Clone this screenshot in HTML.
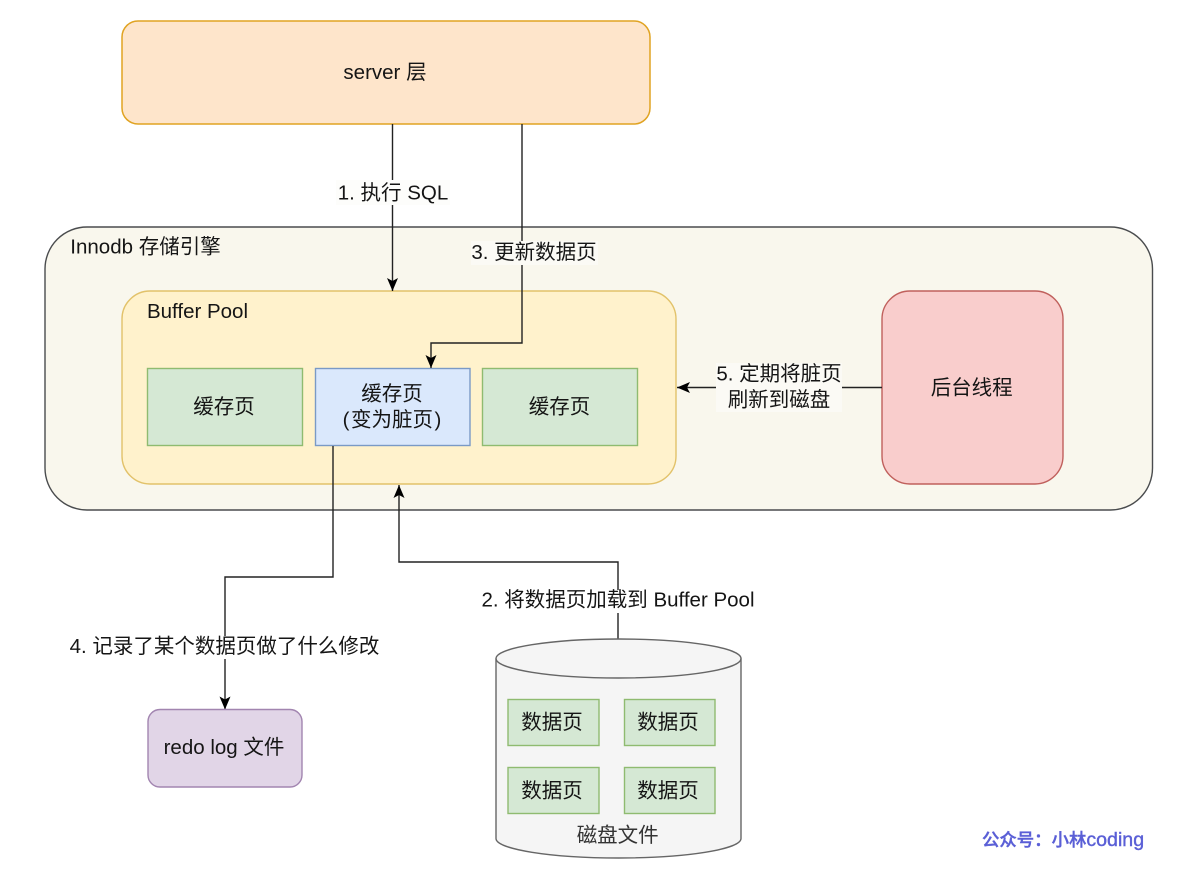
<!DOCTYPE html>
<html><head><meta charset="utf-8">
<style>html,body{margin:0;padding:0;background:#fff}svg{display:block}
text{font-family:"Liberation Sans","Noto Sans CJK SC",sans-serif;font-size:20.5px;fill:#151515;text-anchor:middle}</style></head>
<body>
<svg width="1204" height="876" viewBox="0 0 1204 876" xmlns="http://www.w3.org/2000/svg">
<defs><marker id="a" markerWidth="15" markerHeight="13" refX="13" refY="6" orient="auto" markerUnits="userSpaceOnUse"><path d="M0 0.5L13 6L0 11.500L3 6Z" fill="#000"/></marker></defs>
<rect width="1204" height="876" fill="#fff"/>
<rect x="122" y="21" width="528" height="103" rx="16" fill="#fee5cb" stroke="#e0a322" stroke-width="1.5"/>
<text x="385" y="79">server 层</text>
<rect x="45" y="227" width="1107.500" height="283" rx="42" fill="#f9f7ed" stroke="#4a4c4e" stroke-width="1.4"/>
<text x="145.500" y="253.500">Innodb 存储引擎</text>
<rect x="122" y="291" width="554" height="193" rx="28" fill="#fff2cc" stroke="#e2c26a" stroke-width="1.4"/>
<text x="197.500" y="318">Buffer Pool</text>
<rect x="147.500" y="368.500" width="155" height="77" fill="#d5e8d4" stroke="#8fbb70" stroke-width="1.4"/>
<text x="224" y="413.500">缓存页</text>
<rect x="315.500" y="368.500" width="154.500" height="77" fill="#dae8fc" stroke="#7a9ac6" stroke-width="1.4"/>
<text x="392" y="400.500">缓存页</text><text x="392" y="426.500">(<tspan dx="1.500">变为脏页</tspan><tspan dx="1.500">)</tspan></text>
<rect x="482.500" y="368.500" width="155" height="77" fill="#d5e8d4" stroke="#8fbb70" stroke-width="1.4"/>
<text x="559.500" y="413.500">缓存页</text>
<rect x="882" y="291" width="181" height="193" rx="28" fill="#f9cdcc" stroke="#c0605c" stroke-width="1.4"/>
<text x="971.700" y="394.500">后台线程</text>
<g fill="none" stroke="#222" stroke-width="1.4">
<path d="M392.500 124V291" marker-end="url(#a)"/>
<path d="M522 124V343H431V368" marker-end="url(#a)"/>
<path d="M882 387.500H677" marker-end="url(#a)"/>
<path d="M333 446V577H225V709.500" marker-end="url(#a)"/>
<path d="M618 640V562H399V485" marker-end="url(#a)"/>
</g>
<rect x="336" y="180" width="114" height="25" fill="#fdfdfb"/>
<text x="393" y="199.500">1. 执行 SQL</text>
<rect x="471" y="241" width="127" height="24" fill="#fbfaf5"/>
<text x="534" y="259">3. 更新数据页</text>
<rect x="716" y="363" width="126" height="49" fill="#fbfaf5"/>
<text x="779" y="380.500">5. 定期将脏页</text><text x="779" y="406.500">刷新到磁盘</text>
<rect x="480" y="590" width="276" height="23" fill="#fff"/>
<text x="618" y="606.500">2. 将数据页加载到 Buffer Pool</text>
<rect x="68" y="636" width="314" height="23" fill="#fff"/>
<text x="224.500" y="653">4. 记录了某个数据页做了什么修改</text>
<rect x="148" y="709.500" width="154" height="77.500" rx="12" fill="#e1d5e7" stroke="#a285b0" stroke-width="1.4"/>
<text x="224" y="754">redo log 文件</text>
<path d="M496 658.500A122.500 19.500 0 0 1 741 658.500V838.500A122.500 19.500 0 0 1 496 838.500Z" fill="#f5f5f5" stroke="#666" stroke-width="1.4"/>
<path d="M496 658.500A122.500 19.500 0 0 0 741 658.500" fill="none" stroke="#666" stroke-width="1.4"/>
<rect x="508" y="699.500" width="91" height="46" fill="#d5e8d4" stroke="#8fbb70" stroke-width="1.4"/>
<text x="552" y="729">数据页</text>
<rect x="624.500" y="699.500" width="90.500" height="46" fill="#d5e8d4" stroke="#8fbb70" stroke-width="1.4"/>
<text x="668" y="729">数据页</text>
<rect x="508" y="767.500" width="91" height="46" fill="#d5e8d4" stroke="#8fbb70" stroke-width="1.4"/>
<text x="552" y="797.500">数据页</text>
<rect x="624.500" y="767.500" width="90.500" height="46" fill="#d5e8d4" stroke="#8fbb70" stroke-width="1.4"/>
<text x="668" y="797.500">数据页</text>
<text x="617.700" y="842" style="fill:#333">磁盘文件</text>
<text x="982" y="846" style="fill:#5a5fd6;stroke:#5a5fd6;stroke-width:0.4;text-anchor:start;font-size:17.400px;font-weight:500">公众号：小林<tspan style="font-size:19.600px;font-weight:400">coding</tspan></text>
</svg>
</body></html>
